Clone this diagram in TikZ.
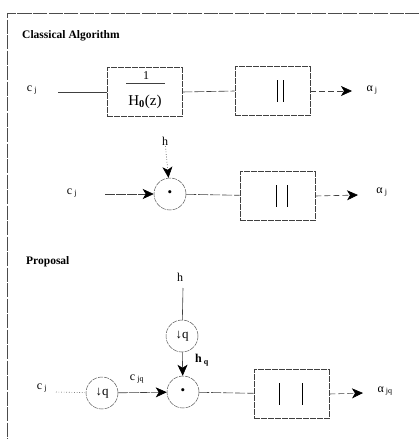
\documentclass[tikz,border=0pt]{standalone}
\usepackage{fontspec}
\setmainfont{Liberation Serif}
\usetikzlibrary{arrows.meta}
\newcommand{\sbx}[1]{\,\textsubscript{#1}}
\begin{document}
\begin{tikzpicture}[x=1pt,y=-1pt,
  line/.style={draw=black!75,line width=0.6pt},
  arr/.style={line,-{Stealth[length=11pt,width=10pt,inset=3pt,black]}},
  blk/.style={draw=black!75,line width=0.6pt,dash pattern=on 6pt off 1pt,minimum width=75pt,minimum height=49pt,inner sep=0pt},
  op/.style={circle,draw=black!65,line width=0.5pt,dash pattern=on 5pt off 1pt,minimum size=32pt,inner sep=0pt,font=\fontsize{13}{13}\selectfont},
  lbl/.style={font=\fontsize{12}{12}\selectfont,inner sep=1pt},
  ttl/.style={font=\fontsize{11.5}{11.5}\selectfont\bfseries,anchor=west,inner sep=0pt}]
\useasboundingbox (0,0) rectangle (419,439);
\draw[black!70,line width=0.6pt,dash pattern=on 14pt off 1.5pt] (419,13) -- (7,13) -- (7,439);
% ---- Classical Algorithm, row 1
\node[ttl] (t1) at (22,36) {Classical Algorithm};
\node[lbl] (c1) at (32,90) {c\sbx{j}};
\coordinate (c1e) at (58,92);
\node[blk] (b1) at (144.5,92) {};
\node[font=\fontsize{12}{12}\selectfont,inner sep=0pt] (one) at (146,76) {1};
\draw[line] (126,83) coordinate (fl) -- (165,83) coordinate (fr);
\node[font=\fontsize{15}{15}\selectfont,inner sep=0pt] (H0) at (145,102) {H\textsubscript{\textbf{0}}(z)};
\node[blk] (b2) at (272.5,91) {};
\draw[line width=0.9pt] (277,80) -- (277,102);
\draw[line width=0.7pt] (283,80) -- (283,102);
\node[lbl] (a1) at (372,90) {α\sbx{j}};
\coordinate (a1e) at (352,91);
\draw[line] (c1e) -- (b1.west);
\draw[line,dash pattern=on 10pt off 2pt] (b1.east) -- (b2.west);
\draw[arr,dash pattern=on 6pt off 3pt] (b2.east) -- (a1e);
% ---- row 2
\node[lbl] (h2) at (165,141) {h};
\node[op] (m2) at (170,194) {\textbullet};
\node[lbl] (c2) at (72,193) {c\sbx{j}};
\coordinate (c2e) at (105,194);
\node[blk] (b3) at (277.5,196) {};
\draw[line width=0.9pt] (276,185) -- (276,207);
\draw[line width=0.6pt] (287,185) -- (287,207);
\node[lbl] (a2) at (382,192) {α\sbx{j}};
\coordinate (a2e) at (358,195);
\draw[arr,dotted] (h2) -- (m2);
\draw[arr,dash pattern=on 10pt off 1pt] (c2e) -- (m2);
\draw[line,dash pattern=on 10pt off 2pt] (m2) -- (b3);
\draw[arr,dash pattern=on 6pt off 3pt] (b3.east) -- (a2e);
% ---- Proposal
\node[ttl] (t2) at (26,262) {Proposal};
\node[lbl] (h3) at (180,277) {h};
\coordinate (h3e) at (183,288);
\node[op] (dq1) at (182,336) {↓q};
\node[op] (m3) at (183,392) {\textbullet};
\node[lbl,font=\fontsize{12}{12}\selectfont\bfseries] (hq) at (202,360) {h\sbx{q}};
\node[lbl] (c3) at (42,388) {c\sbx{j}};
\coordinate (c3e) at (56,392);
\node[op] (dq2) at (102,393) {↓q};
\node[lbl] (cjq) at (137,379) {c\sbx{jq}};
\node[blk] (b4) at (291.5,394) {};
\draw[line width=0.9pt] (279,383) -- (279,405);
\draw[line width=0.9pt] (302,383) -- (302,405);
\node[lbl] (a3) at (385,391) {α\sbx{jq}};
\coordinate (a3e) at (363,393);
\draw[line] (h3e) -- (dq1);
\draw[arr] (dq1) -- (m3);
\draw[line,dotted] (c3e) -- (dq2);
\draw[arr,dash pattern=on 10pt off 1pt] (dq2) -- (m3);
\draw[line,dash pattern=on 10pt off 2pt] (m3) -- (b4);
\draw[arr,dash pattern=on 6pt off 3pt] (b4.east) -- (a3e);
\end{tikzpicture}
\end{document}
